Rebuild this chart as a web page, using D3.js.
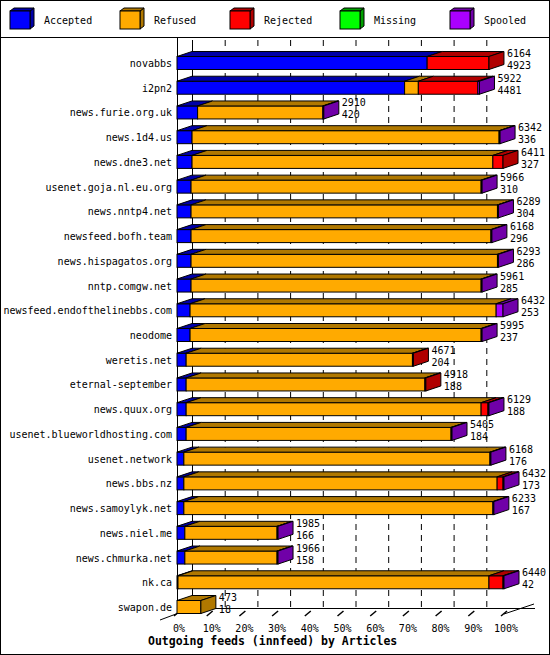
<!DOCTYPE html><html><head><meta charset="utf-8"><script src="https://cdn.jsdelivr.net/npm/d3@7"></script>
<style>body{margin:0;background:#fff}text{font-family:"DejaVu Sans Mono",monospace;font-size:10px}</style></head><body><svg id="c" width="550" height="655"></svg><script>
const hosts=["novabbs","i2pn2","news.furie.org.uk","news.1d4.us","news.dne3.net","usenet.goja.nl.eu.org","news.nntp4.net","newsfeed.bofh.team","news.hispagatos.org","nntp.comgw.net","newsfeed.endofthelinebbs.com","neodome","weretis.net","eternal-september","news.quux.org","usenet.blueworldhosting.com","usenet.network","news.bbs.nz","news.samoylyk.net","news.niel.me","news.chmurka.net","nk.ca","swapon.de"];
const totals=[6164,5922,2910,6342,6411,5966,6289,6168,6293,5961,6432,5995,4671,4918,6129,5405,6168,6432,6233,1985,1966,6440,473];
const seconds=[4923,4481,420,336,327,310,304,296,286,285,253,237,204,188,188,184,176,173,167,166,158,42,18];
// percentages
const accepted=[76.5,69.6,6.3,4.6,4.6,4.3,4.3,4.3,4.3,4.3,4.0,4.0,2.8,2.8,2.8,2.8,2.1,2.1,2.1,2.4,2.4,0.3,0];
const refused=[0,4.2,38.3,93.9,92.0,88.7,93.7,91.7,93.7,88.7,93.6,89.0,69.2,73.0,90.2,81.0,93.6,95.8,94.5,28.2,28.2,95.1,7.3];
const rejected=[18.9,18.2,0,0,3.1,0,0,0,0,0,0,0,0.3,0.3,2.1,0,0,1.8,0,0,0,4.3,0];
const missing=new Array(23).fill(0);
const spooled=[0,0.5,0.3,0.3,0,0.3,0.3,0.3,0.3,0.3,2.1,0.3,0,0,0.3,0.3,0.3,0.3,0.3,0.3,0.3,0.3,0];
const series=[["Accepted",accepted,"#0000ff","#0000a8"],["Refused",refused,"#ffaa00","#b07800"],["Rejected",rejected,"#ff0000","#b00000"],["Missing",missing,"#00ff00","#00a000"],["Spooled",spooled,"#aa00ff","#7000a8"]];
const ticks=[0,10,20,30,40,50,60,70,80,90,100];
const svg=d3.select("#c");
const DX=15,DY=5,H=13;
const x=d3.scaleLinear().domain([0,100]).range([177,504]);
const y=d3.scalePoint().domain(hosts).range([63,607]);
svg.append("rect").attr("x",0.5).attr("y",0.5).attr("width",549).attr("height",654).attr("fill","none").attr("stroke","#000");
svg.append("line").attr("x1",0).attr("x2",550).attr("y1",37.5).attr("y2",37.5).attr("stroke","#000");
series.forEach((s,i)=>{const lx=10+i*110,ly=11;
 svg.append("path").attr("d",`M${lx+20},${ly}l4,-3v18l-4,3z`).attr("fill",s[3]).attr("stroke","#000");
 svg.append("path").attr("d",`M${lx},${ly}l4,-3h20l-4,3z`).attr("fill",s[3]).attr("stroke","#000");
 svg.append("rect").attr("x",lx).attr("y",ly).attr("width",20).attr("height",18).attr("fill",s[2]).attr("stroke","#000");
 svg.append("text").attr("x",lx+34).attr("y",24).text(s[0]);});
ticks.slice(1,10).forEach(t=>svg.append("line").attr("x1",x(t)+DX+.5).attr("x2",x(t)+DX+.5).attr("y1",40).attr("y2",608).attr("stroke","#000").attr("stroke-dasharray","6,5"));
svg.append("line").attr("x1",x(0)+DX+.5).attr("x2",x(0)+DX+.5).attr("y1",40).attr("y2",608).attr("stroke","#000");
svg.append("line").attr("x1",x(0)+.5).attr("x2",x(0)+.5).attr("y1",37).attr("y2",614).attr("stroke","#000");
svg.append("line").attr("x1",x(0)+DX).attr("x2",535).attr("y1",608.5).attr("y2",608.5).attr("stroke","#000");
svg.append("line").attr("x1",160).attr("x2",x(0)+DX).attr("y1",620).attr("y2",608).attr("stroke","#000");
svg.append("line").attr("x1",x(100)).attr("x2",x(100)+DX+15).attr("y1",614).attr("y2",604).attr("stroke","#000");
ticks.forEach(t=>{svg.append("line").attr("x1",x(t)-3).attr("x2",x(t)+3).attr("y1",616).attr("y2",611).attr("stroke","#000").attr("stroke-width",1.5);
 svg.append("text").attr("x",x(t)+2).attr("y",632).attr("text-anchor","middle").text(t+"%");});
hosts.forEach((h,i)=>{const top=y(h)-H/2;let c=0;let last=null;
 series.forEach(s=>{const v=s[1][i];if(v<=0)return;const x0=x(c),x1=x(c+v);c+=v;last=[x1,s];
  svg.append("rect").attr("x",x0).attr("y",top).attr("width",x1-x0).attr("height",H).attr("fill",s[2]).attr("stroke","#000");
  svg.append("path").attr("d",`M${x0},${top}L${x1},${top}L${x1+DX},${top-DY}L${x0+DX},${top-DY}Z`).attr("fill",s[3]).attr("stroke","#000");});
 if(last){const [x1,s]=last;svg.append("path").attr("d",`M${x1},${top}L${x1+DX},${top-DY}L${x1+DX},${top+H-DY}L${x1},${top+H}Z`).attr("fill",s[3]).attr("stroke","#000");
  svg.append("text").attr("x",x1+DX+3).attr("y",y(h)-6).text(totals[i]);
  svg.append("text").attr("x",x1+DX+3).attr("y",y(h)+6).text(seconds[i]);}
 svg.append("text").attr("x",172).attr("y",y(h)+4).attr("text-anchor","end").text(h);});
svg.append("text").attr("x",148).attr("y",645).attr("font-weight","bold").style("font-size","11.5px").text("Outgoing feeds (innfeed) by Articles");
</script></body></html>
